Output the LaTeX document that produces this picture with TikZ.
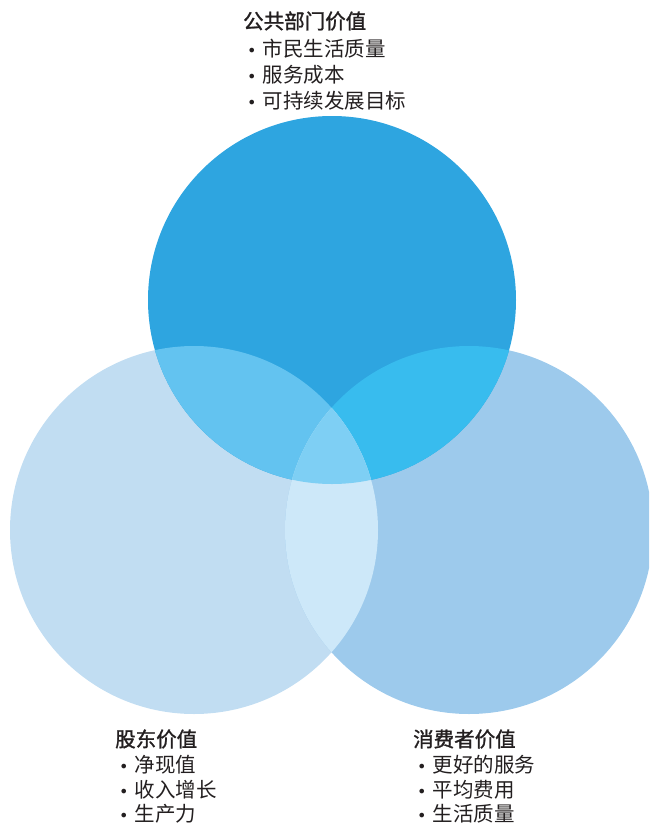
\documentclass[tikz,border=0pt]{standalone}
\usepackage{fontspec}
\newfontfamily\cjk{Noto Sans CJK SC}
\newfontfamily\cjkm[FakeBold=1.3]{Noto Sans CJK SC}
\newfontfamily\bul{DejaVu Sans}
\definecolor{ctop}{HTML}{2EA5E0}
\definecolor{cleft}{HTML}{C1DDF2}
\definecolor{cright}{HTML}{9DCAEC}
\definecolor{ctl}{HTML}{63C3F0}
\definecolor{ctr}{HTML}{38BCEE}
\definecolor{clr}{HTML}{CDE8F9}
\definecolor{call}{HTML}{7ECFF4}
\definecolor{txt}{HTML}{231F20}
\tikzset{
  ttl/.style={anchor=west, inner sep=0pt, font=\cjkm\fontsize{20.5}{22}\selectfont, text=txt},
  itm/.style={anchor=west, inner sep=0pt, font=\cjk\fontsize{20.5}{22}\selectfont, text=txt},
}
\newcommand{\bl}{{\bul\fontsize{16}{16}\selectfont •}\hspace{6pt}}
\begin{document}
\begin{tikzpicture}[x=1pt,y=-1pt]
\useasboundingbox (0,0) rectangle (649,825);
\def\r{184}
\coordinate (T) at (332,300);
\coordinate (L) at (194,530);
\coordinate (R) at (469,530);
\begin{scope}
\clip (0,0) rectangle (649,825);
\fill[cleft] (L) circle (\r);
\fill[cright] (R) circle (\r);
\fill[ctop] (T) circle (\r);
\begin{scope}\clip (T) circle (\r); \fill[ctl] (L) circle (\r);\end{scope}
\begin{scope}\clip (T) circle (\r); \fill[ctr] (R) circle (\r);\end{scope}
\begin{scope}\clip (L) circle (\r); \fill[clr] (R) circle (\r);\end{scope}
\begin{scope}\clip (T) circle (\r); \clip (L) circle (\r); \fill[call] (R) circle (\r);\end{scope}
\end{scope}
% top labels
\node[ttl] (t0) at (243,21) {公共部门价值};
\node[itm] (t1) at (247,49) {\bl 市民生活质量};
\node[itm] (t2) at (247,75) {\bl 服务成本};
\node[itm] (t3) at (247,101) {\bl 可持续发展目标};
% left labels
\node[ttl] (l0) at (115,739) {股东价值};
\node[itm] (l1) at (119,765) {\bl 净现值};
\node[itm] (l2) at (119,790) {\bl 收入增长};
\node[itm] (l3) at (119,814) {\bl 生产力};
% right labels
\node[ttl] (r0) at (413,739) {消费者价值};
\node[itm] (r1) at (417,765) {\bl 更好的服务};
\node[itm] (r2) at (417,790) {\bl 平均费用};
\node[itm] (r3) at (417,814) {\bl 生活质量};
\end{tikzpicture}
\end{document}
